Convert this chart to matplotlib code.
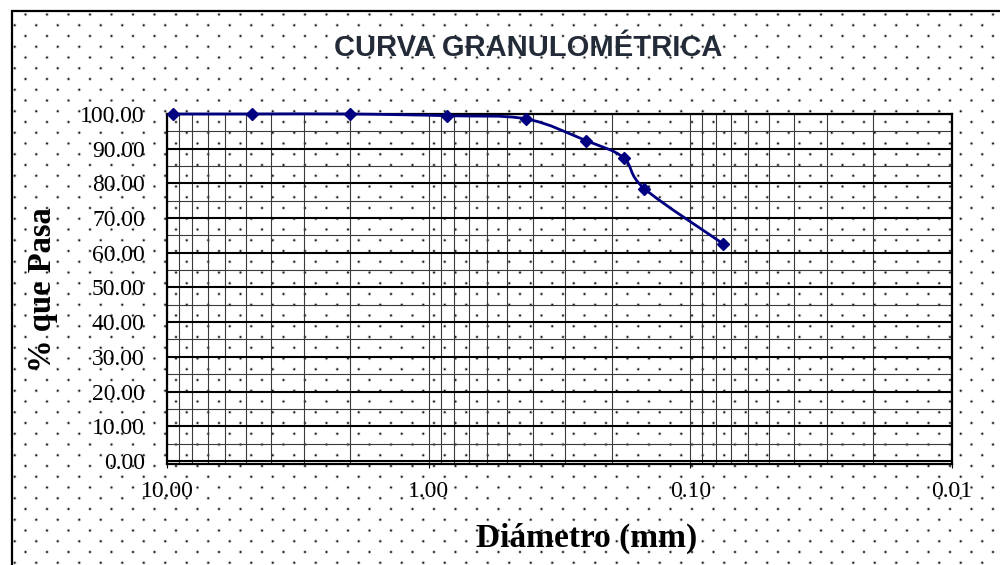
import numpy as np
import matplotlib
matplotlib.use("Agg")
import matplotlib.pyplot as plt
from matplotlib.path import Path
from matplotlib.patches import PathPatch, Rectangle
from matplotlib.ticker import LogLocator, MultipleLocator, NullFormatter

# Análisis granulométrico: abertura del tamiz (mm) y porcentaje que pasa
diametro_mm = [9.525, 4.75, 2.00, 0.850, 0.425, 0.250, 0.180, 0.150, 0.075]
porcentaje_pasa = [100.00, 100.00, 100.00, 99.50, 98.60, 92.30, 87.40, 78.50, 62.60]

x_ticks = [10.0, 1.0, 0.1, 0.01]
x_tick_labels = ["10.00", "1.00", "0.10", "0.01"]
y_ticks = list(range(0, 101, 10))
y_tick_labels = [f"{v:.2f}" for v in y_ticks]

W, H, DPI = 1000, 565, 100
fig = plt.figure(figsize=(W / DPI, H / DPI), dpi=DPI, facecolor="white")

# Dotted pattern fill for the chart area
yy, xx = np.mgrid[0:H, 0:W].astype(float)
row = np.round((yy - 14.0) / 10.75)
off = 25.0 + (row % 2) * 10.75
col = np.round((xx - off) / 21.5)
dx = xx - (off + 21.5 * col)
dy = yy - (14.0 + 10.75 * row)
alpha = np.clip(1.15 * np.exp(-(dx ** 2 + dy ** 2) / (2 * 0.8 ** 2)), 0, 1)
alpha[(xx < 12) | (yy < 11)] = 0.0
tex = np.zeros((H, W, 4))
tex[..., :3] = 0.1
tex[..., 3] = alpha
fig.figimage(tex, 0, 0, zorder=-1)

# Chart area border
fig.add_artist(Rectangle((11.5 / W, -0.05), 1.2, 1 - 10.5 / H + 0.05,
                         transform=fig.transFigure, fill=False,
                         edgecolor="black", linewidth=1.6, zorder=5))

ax = fig.add_axes([167 / W, 101 / H, 785 / W, 350 / H])
ax.set_facecolor("none")

# Smoothed curve (cubic Bezier through the points, in log-x space)
P = np.column_stack([np.log10(diametro_mm), porcentaje_pasa])
Pe = np.vstack([P[0], P, P[-1]])
verts = [P[0]]
codes = [Path.MOVETO]
for i in range(len(P) - 1):
    p0, p1, p2, p3 = Pe[i], Pe[i + 1], Pe[i + 2], Pe[i + 3]
    c1 = p1 + (p2 - p0) / 6.0
    c2 = p2 - (p3 - p1) / 6.0
    verts += [c1, c2, p2]
    codes += [Path.CURVE4] * 3
verts = np.array(verts)
verts[:, 0] = 10 ** verts[:, 0]
curve = PathPatch(Path(verts, codes), fill=False, edgecolor="#000080",
                  linewidth=2.0, clip_on=False, zorder=3)
ax.add_patch(curve)
ax.plot(diametro_mm, porcentaje_pasa, linestyle="none", marker="D",
        markersize=6.3, color="#000080", clip_on=False, zorder=4)

ax.set_xscale("log")
ax.set_xlim(10, 0.01)
ax.set_ylim(-0.9, 100)

ax.set_xticks(x_ticks, labels=x_tick_labels)
ax.xaxis.set_minor_locator(LogLocator(base=10, subs=np.arange(2, 10)))
ax.xaxis.set_minor_formatter(NullFormatter())
ax.set_yticks(y_ticks, labels=y_tick_labels)
ax.yaxis.set_minor_locator(MultipleLocator(5))

ax.set_axisbelow(True)
ax.grid(which="major", axis="y", color="black", linewidth=1.5)
ax.grid(which="minor", axis="y", color="#3a3a3a", linewidth=0.8)
ax.grid(which="both", axis="x", color="#3a3a3a", linewidth=0.8)

ax.tick_params(axis="y", which="both", length=0, pad=16)
ax.tick_params(axis="x", which="minor", length=0)
ax.tick_params(axis="x", which="major", length=3, width=0.8, pad=9)
for lab in ax.get_xticklabels() + ax.get_yticklabels():
    lab.set_fontfamily("Liberation Serif")
    lab.set_fontsize(17)

for sp in ax.spines.values():
    sp.set_linewidth(1.6)
    sp.set_color("black")

fig.text(0.528, 1 - 56 / H, "CURVA GRANULOMÉTRICA", ha="center", va="baseline",
         fontfamily="Liberation Sans", fontweight="bold", fontsize=21,
         color="#232b38")
fig.text(0.5865, 1 - 546.7 / H, "Diámetro (mm)", ha="center", va="baseline",
         fontfamily="Liberation Serif", fontweight="bold", fontsize=24)
fig.text(0.043, 1 - 290 / H, "% que Pasa", ha="center", va="center",
         rotation=90, fontfamily="Liberation Serif", fontweight="bold",
         fontsize=23.5)

fig.savefig("out.png", dpi=DPI)
